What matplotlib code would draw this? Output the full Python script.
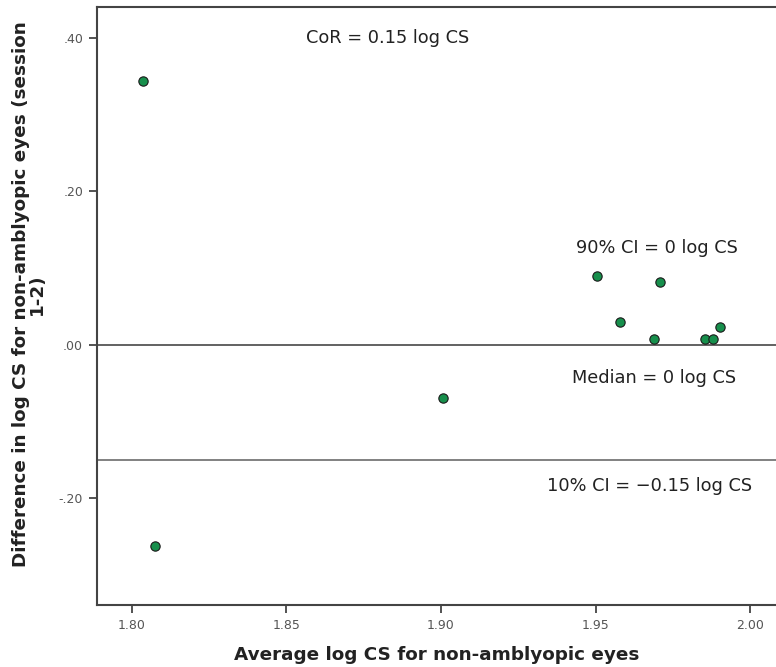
import matplotlib
matplotlib.use("Agg")
import matplotlib.pyplot as plt

avg_cs = [1.8036, 1.8074, 1.9006, 1.9506, 1.9710, 1.9578, 1.9688, 1.9853, 1.9879, 1.9903]
diff_cs = [0.344, -0.262, -0.069, 0.089, 0.082, 0.030, 0.008, 0.008, 0.008, 0.023]

median_val = 0.0
ci10_val = -0.15

xticks = [1.80, 1.85, 1.90, 1.95, 2.00]
xticklabels = ["1.80", "1.85", "1.90", "1.95", "2.00"]
yticks = [-0.20, 0.00, 0.20, 0.40]
yticklabels = ["-.20", ".00", ".20", ".40"]

plt.rcParams['font.family'] = ['DejaVu Sans']

fig = plt.figure(figsize=(7.76, 6.67), dpi=100)
ax = fig.add_axes([97/776, 62/667, 1 - 97/776, 598/667])

ax.axhline(median_val, color="#555555", lw=1.3, zorder=1)
ax.axhline(ci10_val, color="#777777", lw=1.3, zorder=1)

ax.scatter(avg_cs, diff_cs, s=45, facecolor="#178f4c", edgecolor="#1a1a1a", linewidth=0.8, zorder=3)

ax.set_xlim(1.7887, 2.0084)
ax.set_ylim(-0.3396, 0.4404)

ax.set_xticks(xticks)
ax.set_xticklabels(xticklabels)
ax.set_yticks(yticks)
ax.set_yticklabels(yticklabels)
ax.tick_params(axis='both', direction='out', length=6, width=1.3, color="#444444",
               labelsize=9, labelcolor="#555555", pad=4)

for side in ["left", "bottom", "top"]:
    ax.spines[side].set_color("#444444")
    ax.spines[side].set_linewidth(1.5)
ax.spines["right"].set_visible(False)

txt_kw = dict(fontsize=12.8, color="#222222", ha="center", va="center")
ax.text(1.8828, 0.40, "CoR = 0.15 log CS", **txt_kw)
ax.text(1.9699, 0.126, "90% CI = 0 log CS", **txt_kw)
ax.text(1.9689, -0.043, "Median = 0 log CS", **txt_kw)
ax.text(1.9676, -0.185, "10% CI = \u22120.15 log CS", **txt_kw)

ax.set_xlabel("Average log CS for non-amblyopic eyes", fontsize=13.2, fontweight="bold",
              color="#222222", labelpad=10)
ax.set_ylabel("Difference in log CS for non-amblyopic eyes (session\n1-2)", fontsize=13.2,
              fontweight="bold", color="#222222", linespacing=0.85)
ax.yaxis.set_label_coords(-0.075, 0.52)

fig.savefig("out.png", dpi=100)
